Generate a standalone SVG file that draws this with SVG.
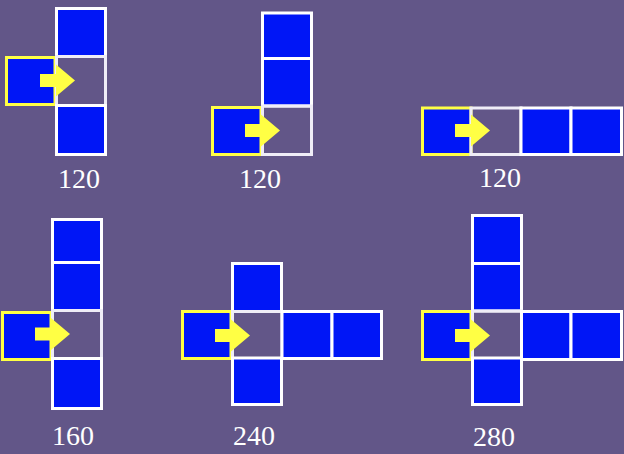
<svg xmlns="http://www.w3.org/2000/svg" width="624" height="454" viewBox="0 0 624 454">
<defs>
<style>
.b{fill:#0016f6;stroke:#ffffff;stroke-width:3}
.e{fill:none;stroke:#efedf7;stroke-width:3}
.y{fill:#0016f6;stroke:#ffff44;stroke-width:3}
.a{fill:#ffff44}
.t{font-family:"Liberation Serif","Times New Roman",serif;font-size:28px;fill:#ffffff;text-anchor:middle}
</style>
<path id="arr" d="M-16,-6.5 H0 V-16 L19,0 L0,16 V6.5 H-16 Z"/>
</defs>
<rect x="0" y="0" width="624" height="454" fill="#625688"/>

<g id="panel1">
<rect class="y" x="6.5" y="57.5" width="48.5" height="47"/>
<rect class="b" x="56.5" y="8.5" width="49" height="48"/>
<rect class="e" x="56.5" y="56.5" width="49" height="49"/>
<rect class="b" x="56.5" y="105.5" width="49" height="49"/>
<text class="t" x="79" y="188">120</text>
</g>

<g id="panel2">
<rect class="y" x="212.5" y="107.5" width="48.5" height="47"/>
<rect class="b" x="262.5" y="13" width="49" height="45.5"/>
<rect class="b" x="262.5" y="58.5" width="49" height="47.5"/>
<rect class="e" x="262.5" y="106" width="49" height="48.5"/>
<text class="t" x="260" y="188">120</text>
</g>

<g id="panel3">
<rect class="y" x="422.5" y="108" width="48.5" height="46.5"/>
<rect class="e" x="471" y="108" width="50" height="46.5"/>
<rect class="b" x="521" y="108" width="50" height="46.5"/>
<rect class="b" x="571" y="108" width="50.5" height="46.5"/>
<text class="t" x="500" y="187">120</text>
</g>

<g id="panel4">
<rect class="y" x="2.5" y="312.5" width="48.5" height="47"/>
<rect class="b" x="52.5" y="219.5" width="49" height="43"/>
<rect class="b" x="52.5" y="262.5" width="49" height="48"/>
<rect class="e" x="52.5" y="310.5" width="49" height="48"/>
<rect class="b" x="52.5" y="358.5" width="49" height="50"/>
<text class="t" x="73" y="445">160</text>
</g>

<g id="panel5">
<rect class="y" x="182.5" y="311.5" width="48.5" height="47"/>
<rect class="b" x="232.5" y="263.5" width="49" height="48"/>
<rect class="e" x="232.5" y="311.5" width="49.5" height="47"/>
<rect class="b" x="232.5" y="358" width="49" height="46.5"/>
<rect class="b" x="282" y="311.5" width="50" height="47"/>
<rect class="b" x="332" y="311.5" width="49.5" height="47"/>
<text class="t" x="254" y="445">240</text>
</g>

<g id="panel6">
<rect class="y" x="422.5" y="311.5" width="48.5" height="48"/>
<rect class="b" x="472.5" y="215.5" width="49" height="48"/>
<rect class="b" x="472.5" y="263.5" width="49" height="47.5"/>
<rect class="e" x="472.5" y="311" width="49" height="48.5"/>
<rect class="b" x="472.5" y="358" width="49" height="46.5"/>
<rect class="b" x="521.5" y="311.5" width="49.5" height="48"/>
<rect class="b" x="571" y="311.5" width="50.5" height="48"/>
<text class="t" x="494" y="446">280</text>
</g>

<g id="connectors">
<use href="#arr" class="a" x="56" y="80.5"/>
<use href="#arr" class="a" x="261" y="130.5"/>
<use href="#arr" class="a" x="471" y="130.5"/>
<use href="#arr" class="a" x="51" y="334"/>
<use href="#arr" class="a" x="231" y="335.5"/>
<use href="#arr" class="a" x="471" y="335.5"/>
</g>
</svg>
